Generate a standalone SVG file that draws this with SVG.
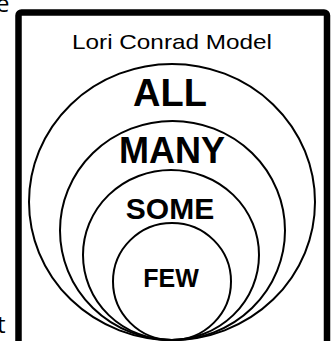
<svg xmlns="http://www.w3.org/2000/svg" width="335" height="341" viewBox="0 0 335 341">
<style>
.ring{fill:none;stroke:#000;stroke-width:2}
.lbl{font-family:"Liberation Sans",Arial,sans-serif;font-weight:bold;text-anchor:middle;fill:#000}
.side{font-family:"Open Sans","DejaVu Sans",sans-serif;font-size:24px;fill:#000}
</style>
<rect width="335" height="341" fill="#fff"/>
<text class="side" x="-4" y="12">e</text>
<text class="side" x="-3" y="333">t</text>
<g id="frame">
<rect x="18.5" y="12.5" width="308.5" height="340" rx="3" fill="none" stroke="#000" stroke-width="6.5"/>
<text x="172" y="49" font-family="Liberation Sans,Arial,sans-serif" font-size="21" text-anchor="middle" textLength="200" lengthAdjust="spacingAndGlyphs">Lori Conrad Model</text>
</g>
<g id="all">
<ellipse class="ring" cx="172" cy="202" rx="143" ry="138"/>
<text class="lbl" x="170" y="106" font-size="38">ALL</text>
</g>
<g id="many">
<ellipse class="ring" cx="172.5" cy="230.5" rx="112.5" ry="109.5"/>
<text class="lbl" x="172" y="163" font-size="36">MANY</text>
</g>
<g id="some">
<ellipse class="ring" cx="171" cy="255" rx="88" ry="85"/>
<text class="lbl" x="170" y="219" font-size="30">SOME</text>
</g>
<g id="few">
<ellipse class="ring" cx="172" cy="281.5" rx="59" ry="58.5"/>
<text class="lbl" x="171" y="287" font-size="25">FEW</text>
</g>
</svg>
